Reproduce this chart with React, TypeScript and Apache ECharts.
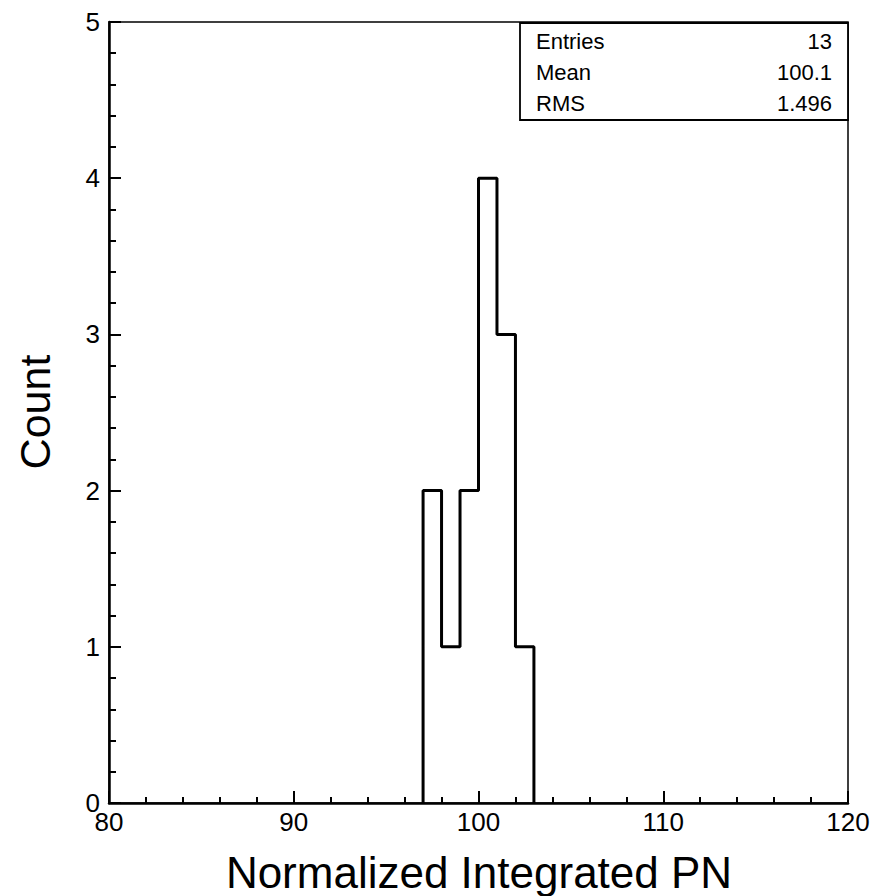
import React, { useEffect, useRef } from "react";
import * as echarts from "echarts";

const binEdges = [97, 98, 99, 100, 101, 102, 103];
const counts = [2, 1, 2, 4, 3, 1];
const statLabels = ["Entries", "Mean", "RMS"];
const statValues = ["13", "100.1", "1.496"];
const xTitle = "Normalized Integrated PN";
const yTitle = "Count";

const FONT = "'Liberation Sans', Arial, Helvetica, sans-serif";

export default function App() {
  const ref = useRef<HTMLDivElement>(null);
  useEffect(() => {
    if (!ref.current) return;
    const chart = echarts.init(ref.current, null, { renderer: "svg" });
    const pts: number[][] = [[binEdges[0], 0]];
    counts.forEach((c, i) => {
      pts.push([binEdges[i], c]);
      pts.push([binEdges[i + 1], c]);
    });
    pts.push([binEdges[binEdges.length - 1], 0]);

    const L = 109, T = 22, R = 848, B = 803;
    const statGraphics: any[] = [
      {
        type: "rect",
        shape: { x: 520, y: 23, width: 328, height: 97 },
        style: { fill: "#fff", stroke: "#000", lineWidth: 1.8 },
        z: 10,
      },
    ];
    const rowY = [41, 72, 103];
    statLabels.forEach((lab, i) => {
      statGraphics.push({
        type: "text",
        x: 536,
        y: rowY[i],
        z: 11,
        style: { text: lab, font: `22px ${FONT}`, fill: "#000", align: "left", verticalAlign: "middle" },
      });
      statGraphics.push({
        type: "text",
        x: 832,
        y: rowY[i],
        z: 11,
        style: { text: statValues[i], font: `22px ${FONT}`, fill: "#000", align: "right", verticalAlign: "middle" },
      });
    });

    chart.setOption({
      animation: false,
      backgroundColor: "#fff",
      grid: {
        left: L,
        top: T,
        width: R - L,
        height: B - T,
        show: true,
        borderColor: "#000",
        borderWidth: 1.5,
        backgroundColor: "transparent",
      },
      xAxis: {
        type: "value",
        min: 80,
        max: 120,
        interval: 10,
        axisLine: { show: true, onZero: false, lineStyle: { color: "#000", width: 2.5 } },
        axisTick: { show: true, inside: true, length: 12, lineStyle: { color: "#000", width: 2 } },
        minorTick: { show: true, splitNumber: 5, length: 6, lineStyle: { color: "#000", width: 2 } },
        splitLine: { show: false },
        axisLabel: { color: "#000", fontSize: 26, fontFamily: FONT, margin: 6 },
      },
      yAxis: {
        type: "value",
        min: 0,
        max: 5,
        interval: 1,
        axisLine: { show: true, onZero: false, lineStyle: { color: "#000", width: 2.5 } },
        axisTick: { show: true, inside: true, length: 12, lineStyle: { color: "#000", width: 2 } },
        minorTick: { show: true, splitNumber: 5, length: 7, lineStyle: { color: "#000", width: 2 } },
        splitLine: { show: false },
        axisLabel: { color: "#000", fontSize: 26, fontFamily: FONT, margin: 9 },
      },
      series: [
        {
          type: "line",
          data: pts,
          symbol: "none",
          lineStyle: { color: "#000", width: 3 },
          z: 5,
        },
      ],
      graphic: [
        {
          type: "text",
          x: 479,
          y: 872,
          style: { text: xTitle, font: `44px ${FONT}`, fill: "#000", align: "center", verticalAlign: "middle" },
        },
        {
          type: "text",
          x: 35,
          y: 412,
          rotation: Math.PI / 2,
          style: { text: yTitle, font: `43px ${FONT}`, fill: "#000", align: "center", verticalAlign: "middle" },
        },
        ...statGraphics,
      ],
    });
    return () => chart.dispose();
  }, []);
  return (
    <div
      ref={ref}
      style={{ position: "fixed", left: 0, top: 0, width: 875, height: 896, background: "#fff" }}
    />
  );
}
